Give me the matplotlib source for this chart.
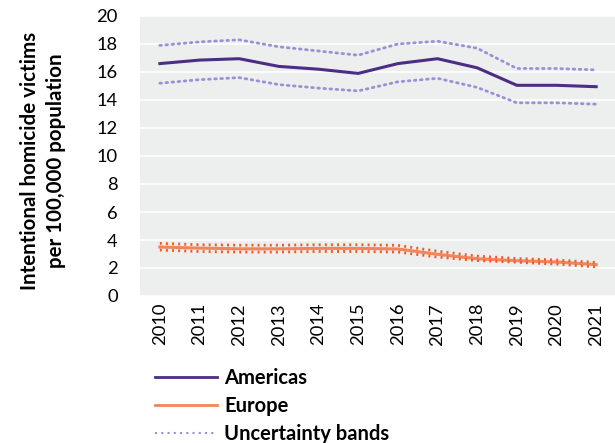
import numpy as np
import matplotlib.pyplot as plt
from matplotlib.lines import Line2D

years = ['2010', '2011', '2012', '2013', '2014', '2015', '2016', '2017', '2018', '2019', '2020', '2021']

americas = [16.6, 16.85, 16.95, 16.4, 16.2, 15.9, 16.6, 16.95, 16.3, 15.05, 15.05, 14.95]
americas_hi = [17.9, 18.15, 18.3, 17.8, 17.5, 17.2, 18.0, 18.2, 17.7, 16.25, 16.25, 16.15]
americas_lo = [15.2, 15.45, 15.6, 15.1, 14.85, 14.65, 15.3, 15.55, 14.9, 13.8, 13.8, 13.7]

europe = [3.5, 3.42, 3.37, 3.37, 3.4, 3.4, 3.36, 2.98, 2.66, 2.52, 2.43, 2.24]
europe_hi = [3.76, 3.66, 3.63, 3.63, 3.66, 3.66, 3.62, 3.2, 2.85, 2.68, 2.57, 2.4]
europe_lo = [3.28, 3.18, 3.14, 3.14, 3.18, 3.18, 3.14, 2.78, 2.53, 2.41, 2.28, 2.08]

purple = '#4b2e83'
purple_light = '#9d8fd6'
orange = '#f4845a'
orange_dark = '#ee5a24'

plt.rcParams['font.family'] = ['Lato', 'DejaVu Sans']

fig = plt.figure(figsize=(6.15, 4.43), dpi=100)
ax = fig.add_axes([140 / 615, 1 - 296 / 443, 476 / 615, 280 / 443])
ax.set_facecolor('#edeeee')

x = np.arange(len(years))
ax.plot(x, americas_hi, color=purple_light, lw=2, ls=(0, (0.6, 1.6)), dash_capstyle='round')
ax.plot(x, americas_lo, color=purple_light, lw=2, ls=(0, (0.6, 1.6)), dash_capstyle='round')
ax.plot(x, americas, color=purple, lw=2.2)
ax.plot(x, europe, color=orange, lw=2.2)
ax.plot(x, europe_hi, color=orange_dark, lw=2, ls=(0, (0.7, 1.5)))
ax.plot(x, europe_lo, color=orange_dark, lw=2, ls=(0, (0.7, 1.5)))

ax.set_xlim(-0.5, 11.5)
ax.set_ylim(0, 20)
ax.set_yticks(range(0, 21, 2))
ax.set_xticks(x)
ax.set_xticklabels(years, rotation=90)
ax.tick_params(length=0, labelsize=13.2, colors='black')
ax.tick_params(axis='y', pad=16)
ax.tick_params(axis='x', pad=5)
ax.yaxis.grid(True, color='white', lw=1.2)
ax.set_axisbelow(True)
for s in ax.spines.values():
    s.set_visible(False)

fig.text(43 / 615, 1 - 161 / 443, 'Intentional homicide victims\nper 100,000 population',
         rotation=90, ha='center', va='center', fontsize=14.8, fontweight='bold', linespacing=1.35)

handles = [Line2D([], [], color=purple, lw=2),
           Line2D([], [], color=orange, lw=2),
           Line2D([], [], color=purple_light, lw=1.5, ls=(0, (1, 2)))]
labels = ['Americas', 'Europe', 'Uncertainty bands']
fig.legend(handles, labels, loc='upper left', bbox_to_anchor=(155 / 615, 1 - 368 / 443),
           frameon=False, handlelength=3.1, handletextpad=0.35, labelspacing=0.4,
           prop={'size': 14.5, 'weight': 'bold'}, borderaxespad=0, borderpad=0)

fig.savefig('out.png', dpi=100, facecolor='white')
